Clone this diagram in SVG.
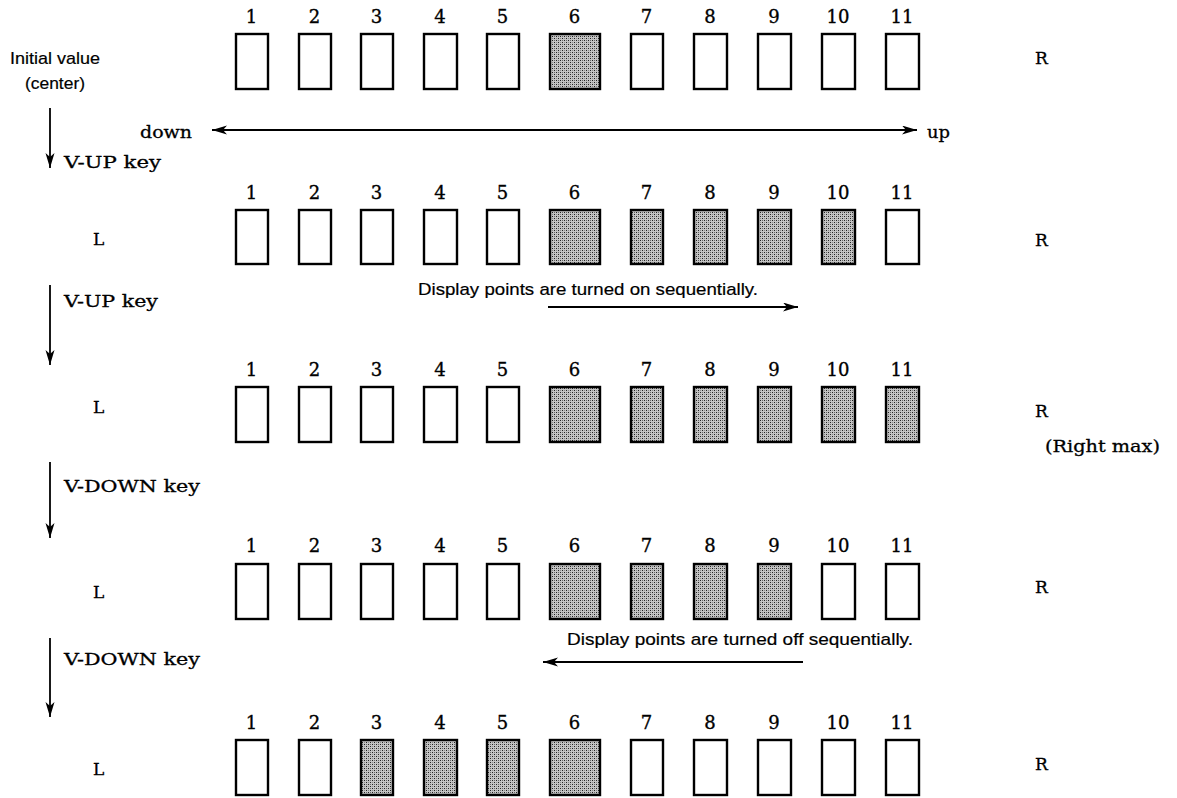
<svg xmlns="http://www.w3.org/2000/svg" width="1177" height="798" viewBox="0 0 1177 798">
<style>
.box{fill:#fff;stroke:#000;stroke-width:2.4}
.on{fill:url(#dots)}
.num{font-family:"DejaVu Serif","Liberation Serif",serif;font-size:18px;text-anchor:middle;fill:#000;stroke:#000;stroke-width:0.35}
.lbl{font-family:"DejaVu Serif","Liberation Serif",serif;font-size:17px;fill:#000;stroke:#000;stroke-width:0.3}
.sans{font-family:"Liberation Sans",Arial,sans-serif;font-size:17px;fill:#000;stroke:#000;stroke-width:0.2}
.conn{stroke:#000;stroke-width:1.8;fill:none}
</style>
<defs>
<pattern id="dots" width="4" height="4" patternUnits="userSpaceOnUse">
<rect width="4" height="4" fill="#c4c4c4"/>
<rect x="0" y="0" width="1" height="1" fill="#222"/>
<rect x="2" y="2" width="1" height="1" fill="#222"/>
<rect x="2" y="0" width="1" height="1" fill="#666"/>
<rect x="0" y="2" width="1" height="1" fill="#888"/>
</pattern>
<marker id="ah" markerUnits="userSpaceOnUse" markerWidth="16" markerHeight="10" refX="15" refY="4.5" orient="auto-start-reverse">
<path d="M0,0 L15,4.5 L0,9 L4,4.5 z" fill="#000"/>
</marker>
</defs>

<g id="labels">
<text class="sans" x="10" y="64" textLength="90" lengthAdjust="spacingAndGlyphs">Initial value</text>
<text class="sans" x="25" y="89" textLength="60" lengthAdjust="spacingAndGlyphs">(center)</text>
<text class="lbl" x="140" y="138" textLength="52" lengthAdjust="spacingAndGlyphs">down</text>
<text class="lbl" x="927" y="138" textLength="23" lengthAdjust="spacingAndGlyphs">up</text>
<text class="lbl" x="64" y="168" textLength="97" lengthAdjust="spacingAndGlyphs">V-UP key</text>
<text class="lbl" x="64" y="307" textLength="94" lengthAdjust="spacingAndGlyphs">V-UP key</text>
<text class="lbl" x="64" y="492" textLength="136" lengthAdjust="spacingAndGlyphs">V-DOWN key</text>
<text class="lbl" x="64" y="665" textLength="136" lengthAdjust="spacingAndGlyphs">V-DOWN key</text>
<text class="sans" x="418" y="295" textLength="340" lengthAdjust="spacingAndGlyphs">Display points are turned on sequentially.</text>
<text class="sans" x="567" y="645" textLength="346" lengthAdjust="spacingAndGlyphs">Display points are turned off sequentially.</text>
<text class="lbl" x="93" y="245">L</text>
<text class="lbl" x="93" y="413">L</text>
<text class="lbl" x="93" y="598">L</text>
<text class="lbl" x="93" y="775">L</text>
<text class="lbl" x="1035" y="64">R</text>
<text class="lbl" x="1035" y="246">R</text>
<text class="lbl" x="1035" y="417">R</text>
<text class="lbl" x="1035" y="593">R</text>
<text class="lbl" x="1035" y="770">R</text>
<text class="lbl" x="1045" y="452" textLength="115" lengthAdjust="spacingAndGlyphs">(Right max)</text>
</g>

<g id="connectors">
<line class="conn" x1="50" y1="108" x2="50" y2="168" marker-end="url(#ah)"/>
<line class="conn" x1="50" y1="285" x2="50" y2="365" marker-end="url(#ah)"/>
<line class="conn" x1="50" y1="462" x2="50" y2="538" marker-end="url(#ah)"/>
<line class="conn" x1="50" y1="638" x2="50" y2="717" marker-end="url(#ah)"/>
<line class="conn" x1="212" y1="130" x2="917" y2="130" marker-start="url(#ah)" marker-end="url(#ah)"/>
<line class="conn" x1="548" y1="307" x2="798" y2="307" marker-end="url(#ah)"/>
<line class="conn" x1="803" y1="662" x2="543" y2="662" marker-end="url(#ah)"/>
</g>

<g id="row1">
<g id="r1n1"><text class="num" x="251.5" y="23">1</text><rect class="box" x="236" y="34" width="32" height="55"/></g>
<g id="r1n2"><text class="num" x="314.5" y="23">2</text><rect class="box" x="299" y="34" width="32" height="55"/></g>
<g id="r1n3"><text class="num" x="376.5" y="23">3</text><rect class="box" x="361" y="34" width="32" height="55"/></g>
<g id="r1n4"><text class="num" x="440" y="23">4</text><rect class="box" x="424" y="34" width="33" height="55"/></g>
<g id="r1n5"><text class="num" x="502.5" y="23">5</text><rect class="box" x="487" y="34" width="32" height="55"/></g>
<g id="r1n6"><text class="num" x="574.5" y="23">6</text><rect class="box on" x="550" y="34" width="50" height="55"/></g>
<g id="r1n7"><text class="num" x="646.5" y="23">7</text><rect class="box" x="631" y="34" width="32" height="55"/></g>
<g id="r1n8"><text class="num" x="710" y="23">8</text><rect class="box" x="694" y="34" width="33" height="55"/></g>
<g id="r1n9"><text class="num" x="774" y="23">9</text><rect class="box" x="758" y="34" width="33" height="55"/></g>
<g id="r1n10"><text class="num" x="838" y="23">10</text><rect class="box" x="822" y="34" width="33" height="55"/></g>
<g id="r1n11"><text class="num" x="902" y="23">11</text><rect class="box" x="886" y="34" width="33" height="55"/></g>
</g>

<g id="row2">
<g id="r2n1"><text class="num" x="251.5" y="199">1</text><rect class="box" x="236" y="210" width="32" height="54"/></g>
<g id="r2n2"><text class="num" x="314.5" y="199">2</text><rect class="box" x="299" y="210" width="32" height="54"/></g>
<g id="r2n3"><text class="num" x="376.5" y="199">3</text><rect class="box" x="361" y="210" width="32" height="54"/></g>
<g id="r2n4"><text class="num" x="440" y="199">4</text><rect class="box" x="424" y="210" width="33" height="54"/></g>
<g id="r2n5"><text class="num" x="502.5" y="199">5</text><rect class="box" x="487" y="210" width="32" height="54"/></g>
<g id="r2n6"><text class="num" x="574.5" y="199">6</text><rect class="box on" x="550" y="210" width="50" height="54"/></g>
<g id="r2n7"><text class="num" x="646.5" y="199">7</text><rect class="box on" x="631" y="210" width="32" height="54"/></g>
<g id="r2n8"><text class="num" x="710" y="199">8</text><rect class="box on" x="694" y="210" width="33" height="54"/></g>
<g id="r2n9"><text class="num" x="774" y="199">9</text><rect class="box on" x="758" y="210" width="33" height="54"/></g>
<g id="r2n10"><text class="num" x="838" y="199">10</text><rect class="box on" x="822" y="210" width="33" height="54"/></g>
<g id="r2n11"><text class="num" x="902" y="199">11</text><rect class="box" x="886" y="210" width="33" height="54"/></g>
</g>

<g id="row3">
<g id="r3n1"><text class="num" x="251.5" y="376">1</text><rect class="box" x="236" y="387" width="32" height="55"/></g>
<g id="r3n2"><text class="num" x="314.5" y="376">2</text><rect class="box" x="299" y="387" width="32" height="55"/></g>
<g id="r3n3"><text class="num" x="376.5" y="376">3</text><rect class="box" x="361" y="387" width="32" height="55"/></g>
<g id="r3n4"><text class="num" x="440" y="376">4</text><rect class="box" x="424" y="387" width="33" height="55"/></g>
<g id="r3n5"><text class="num" x="502.5" y="376">5</text><rect class="box" x="487" y="387" width="32" height="55"/></g>
<g id="r3n6"><text class="num" x="574.5" y="376">6</text><rect class="box on" x="550" y="387" width="50" height="55"/></g>
<g id="r3n7"><text class="num" x="646.5" y="376">7</text><rect class="box on" x="631" y="387" width="32" height="55"/></g>
<g id="r3n8"><text class="num" x="710" y="376">8</text><rect class="box on" x="694" y="387" width="33" height="55"/></g>
<g id="r3n9"><text class="num" x="774" y="376">9</text><rect class="box on" x="758" y="387" width="33" height="55"/></g>
<g id="r3n10"><text class="num" x="838" y="376">10</text><rect class="box on" x="822" y="387" width="33" height="55"/></g>
<g id="r3n11"><text class="num" x="902" y="376">11</text><rect class="box on" x="886" y="387" width="33" height="55"/></g>
</g>

<g id="row4">
<g id="r4n1"><text class="num" x="251.5" y="552">1</text><rect class="box" x="236" y="564" width="32" height="55"/></g>
<g id="r4n2"><text class="num" x="314.5" y="552">2</text><rect class="box" x="299" y="564" width="32" height="55"/></g>
<g id="r4n3"><text class="num" x="376.5" y="552">3</text><rect class="box" x="361" y="564" width="32" height="55"/></g>
<g id="r4n4"><text class="num" x="440" y="552">4</text><rect class="box" x="424" y="564" width="33" height="55"/></g>
<g id="r4n5"><text class="num" x="502.5" y="552">5</text><rect class="box" x="487" y="564" width="32" height="55"/></g>
<g id="r4n6"><text class="num" x="574.5" y="552">6</text><rect class="box on" x="550" y="564" width="50" height="55"/></g>
<g id="r4n7"><text class="num" x="646.5" y="552">7</text><rect class="box on" x="631" y="564" width="32" height="55"/></g>
<g id="r4n8"><text class="num" x="710" y="552">8</text><rect class="box on" x="694" y="564" width="33" height="55"/></g>
<g id="r4n9"><text class="num" x="774" y="552">9</text><rect class="box on" x="758" y="564" width="33" height="55"/></g>
<g id="r4n10"><text class="num" x="838" y="552">10</text><rect class="box" x="822" y="564" width="33" height="55"/></g>
<g id="r4n11"><text class="num" x="902" y="552">11</text><rect class="box" x="886" y="564" width="33" height="55"/></g>
</g>

<g id="row5">
<g id="r5n1"><text class="num" x="251.5" y="729">1</text><rect class="box" x="236" y="740" width="32" height="55"/></g>
<g id="r5n2"><text class="num" x="314.5" y="729">2</text><rect class="box" x="299" y="740" width="32" height="55"/></g>
<g id="r5n3"><text class="num" x="376.5" y="729">3</text><rect class="box on" x="361" y="740" width="32" height="55"/></g>
<g id="r5n4"><text class="num" x="440" y="729">4</text><rect class="box on" x="424" y="740" width="33" height="55"/></g>
<g id="r5n5"><text class="num" x="502.5" y="729">5</text><rect class="box on" x="487" y="740" width="32" height="55"/></g>
<g id="r5n6"><text class="num" x="574.5" y="729">6</text><rect class="box on" x="550" y="740" width="50" height="55"/></g>
<g id="r5n7"><text class="num" x="646.5" y="729">7</text><rect class="box" x="631" y="740" width="32" height="55"/></g>
<g id="r5n8"><text class="num" x="710" y="729">8</text><rect class="box" x="694" y="740" width="33" height="55"/></g>
<g id="r5n9"><text class="num" x="774" y="729">9</text><rect class="box" x="758" y="740" width="33" height="55"/></g>
<g id="r5n10"><text class="num" x="838" y="729">10</text><rect class="box" x="822" y="740" width="33" height="55"/></g>
<g id="r5n11"><text class="num" x="902" y="729">11</text><rect class="box" x="886" y="740" width="33" height="55"/></g>
</g>
</svg>
